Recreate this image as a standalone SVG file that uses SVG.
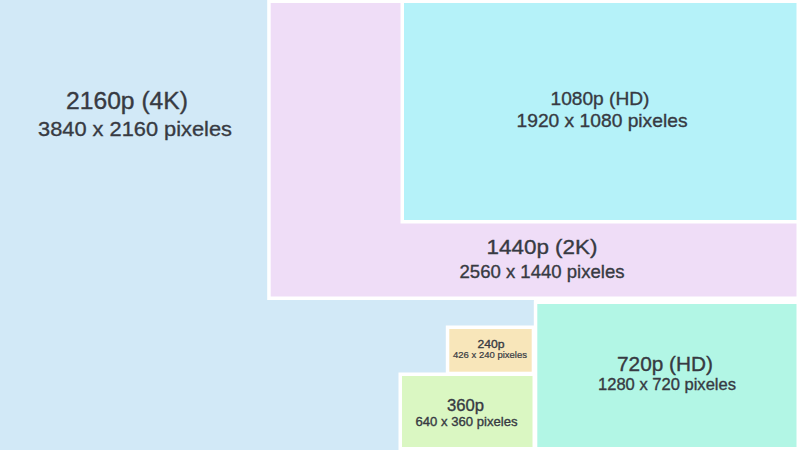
<svg xmlns="http://www.w3.org/2000/svg" width="800" height="450" viewBox="0 0 800 450">
<style>
.box{stroke:#ffffff;stroke-width:7;paint-order:stroke}
.t{font-family:"Liberation Sans",Arial,sans-serif;fill:#373a42;stroke:#373a42;stroke-width:0.35;text-anchor:middle}
</style>
<rect width="800" height="450" fill="#ffffff"/>
<g id="r2160">
<rect x="0" y="0" width="534" height="450" fill="#d2e9f7"/>
<text class="t" x="127" y="109" font-size="23" textLength="122" lengthAdjust="spacingAndGlyphs">2160p (4K)</text>
<text class="t" x="135" y="136" font-size="21" textLength="194" lengthAdjust="spacingAndGlyphs">3840 x 2160 pixeles</text>
</g>
<g id="r1440">
<rect class="box" x="270.7" y="3" width="525.8" height="293.5" fill="#efddf7"/>
<text class="t" x="542" y="253.5" font-size="21" textLength="111" lengthAdjust="spacingAndGlyphs">1440p (2K)</text>
<text class="t" x="542" y="277.5" font-size="19" textLength="165" lengthAdjust="spacingAndGlyphs">2560 x 1440 pixeles</text>
</g>
<g id="r1080">
<rect class="box" x="404" y="3" width="392.5" height="217" fill="#b5f2f9"/>
<text class="t" x="600" y="105" font-size="19" textLength="99" lengthAdjust="spacingAndGlyphs">1080p (HD)</text>
<text class="t" x="602" y="127" font-size="19" textLength="171" lengthAdjust="spacingAndGlyphs">1920 x 1080 pixeles</text>
</g>
<g id="r720">
<rect class="box" x="537.3" y="304" width="259.2" height="143" fill="#b2f6e5"/>
<text class="t" x="665" y="371" font-size="20" textLength="96" lengthAdjust="spacingAndGlyphs">720p (HD)</text>
<text class="t" x="667" y="390" font-size="16.5" textLength="138" lengthAdjust="spacingAndGlyphs">1280 x 720 pixeles</text>
</g>
<g id="r240">
<rect class="box" x="449.3" y="329" width="82.4" height="42.7" fill="#f8e6ba"/>
<text class="t" x="491" y="347.5" font-size="11.5" textLength="27" lengthAdjust="spacingAndGlyphs">240p</text>
<text class="t" x="490" y="358" font-size="9" textLength="74" lengthAdjust="spacingAndGlyphs" style="stroke-width:0.2">426 x 240 pixeles</text>
</g>
<g id="r360">
<rect class="box" x="402" y="376" width="130.5" height="71" fill="#daf7c2"/>
<text class="t" x="465.5" y="411" font-size="16" textLength="37" lengthAdjust="spacingAndGlyphs">360p</text>
<text class="t" x="466.5" y="426" font-size="12.5" textLength="102" lengthAdjust="spacingAndGlyphs">640 x 360 pixeles</text>
</g>
<g id="connectors"></g>
</svg>
